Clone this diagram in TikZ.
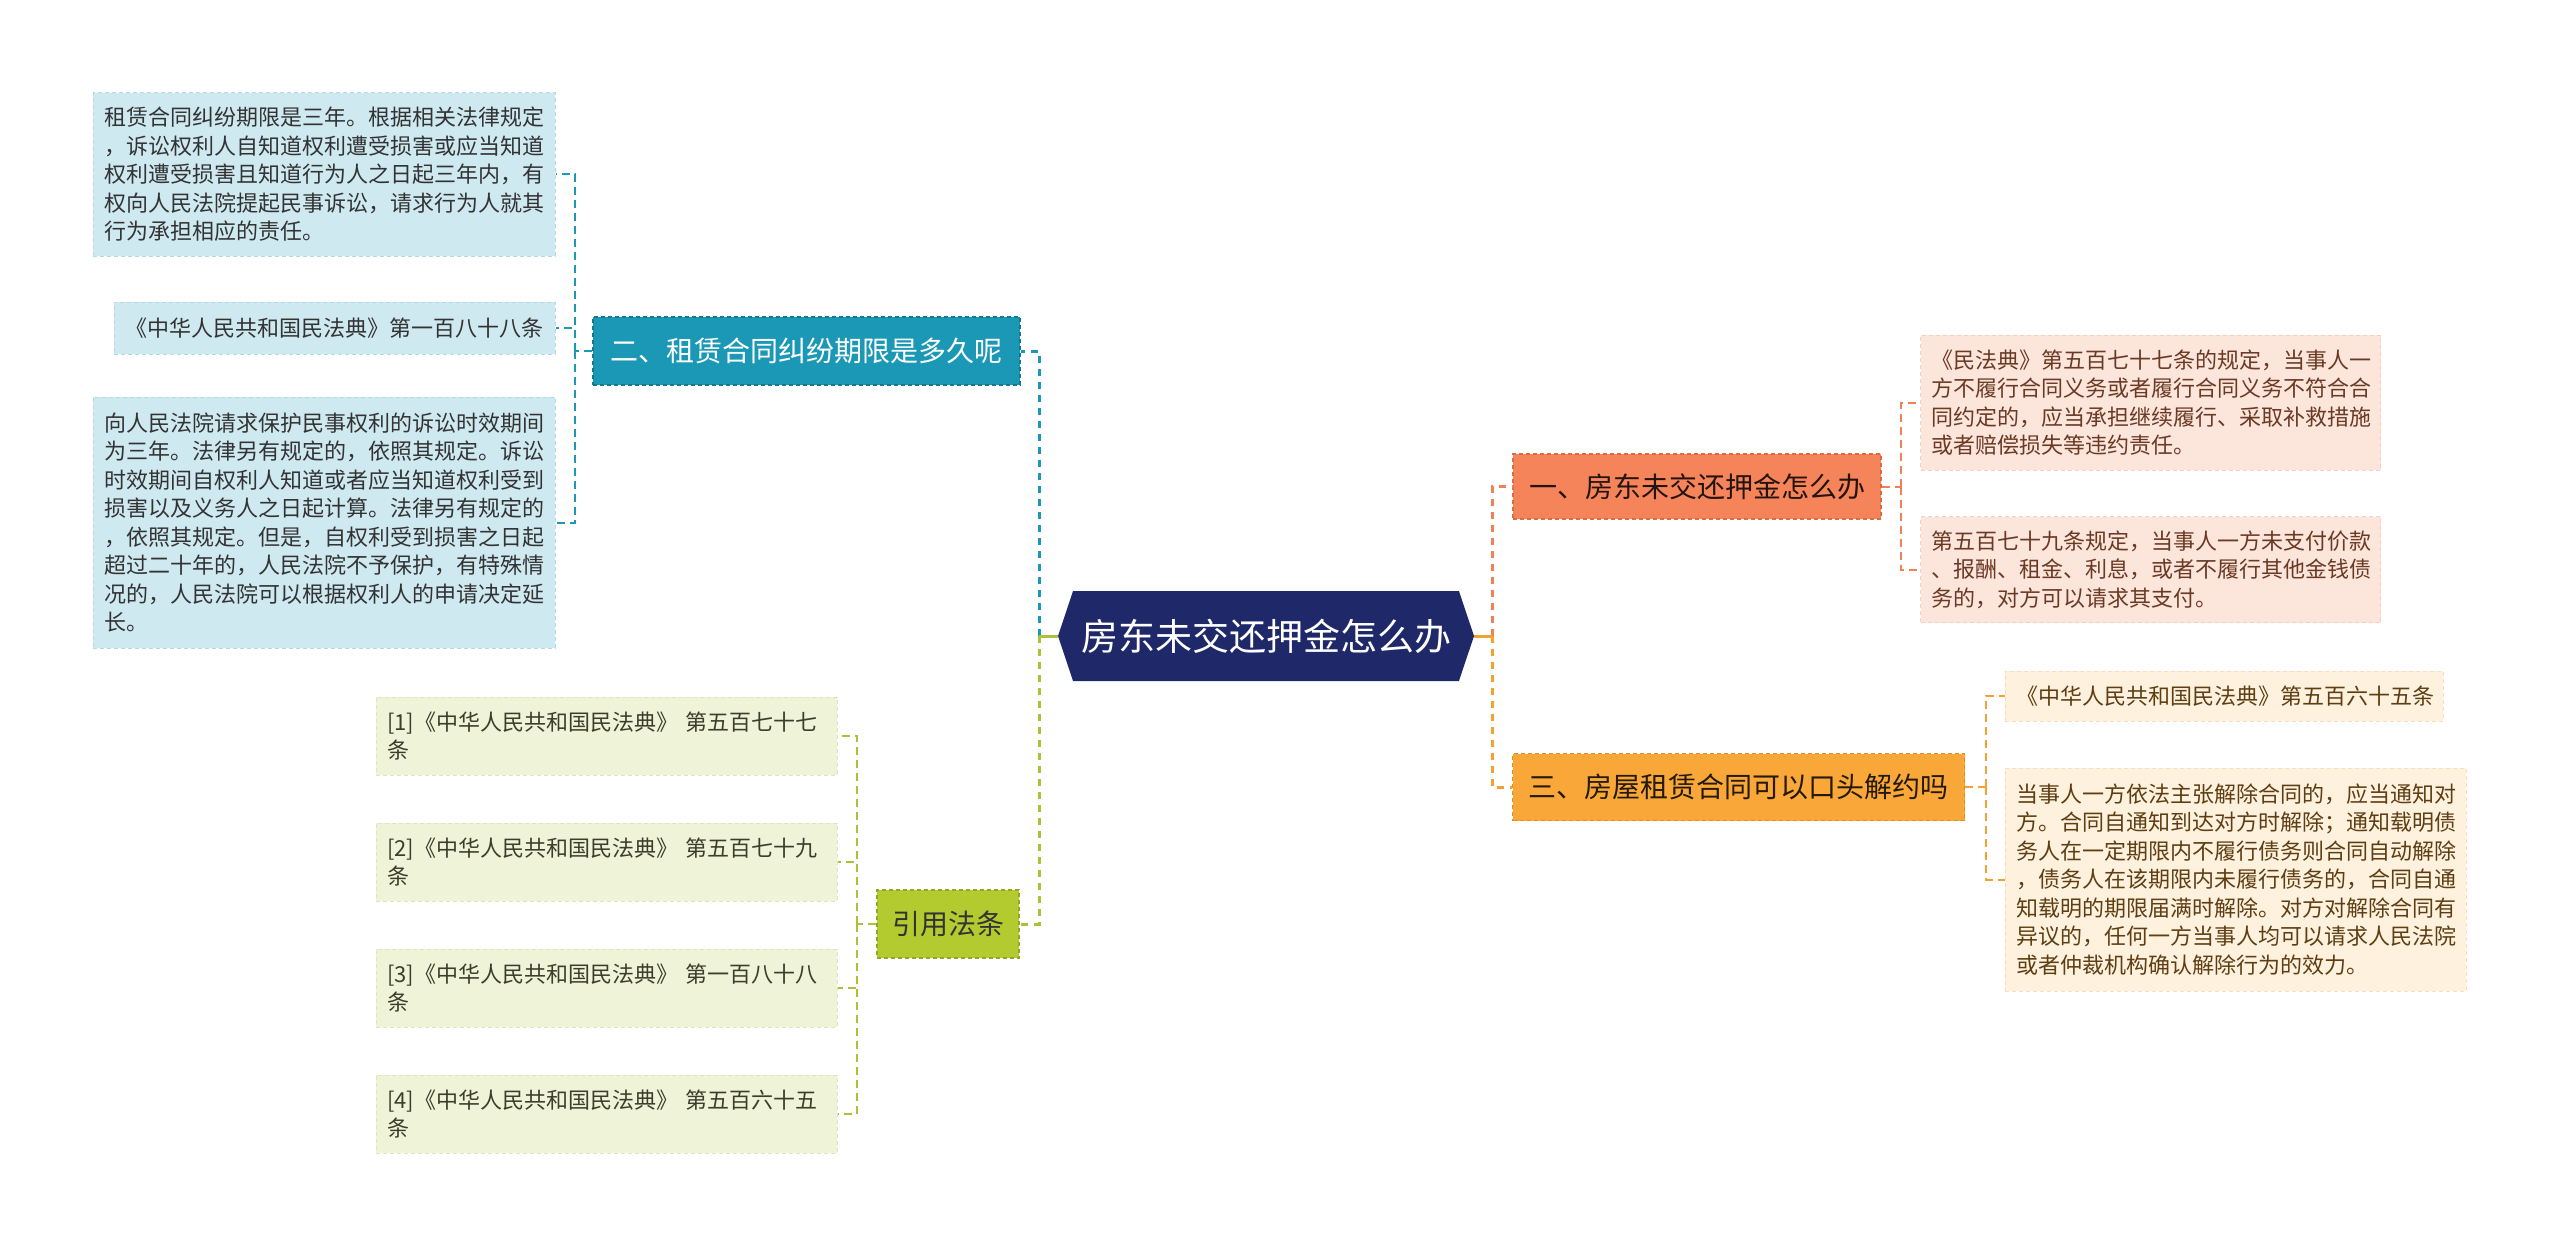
\documentclass[tikz,border=0pt]{standalone}
\usepackage{fontspec}
\newfontfamily\cjk{Noto Sans CJK SC}
\usetikzlibrary{shapes.symbols}
\definecolor{cNavy}{HTML}{1F2868}
\definecolor{cBfill}{HTML}{1A98B5}
\definecolor{cBline}{HTML}{107A94}
\definecolor{cAfill}{HTML}{CFE9F1}
\definecolor{cAline}{HTML}{B2D9E6}
\definecolor{cCfill}{HTML}{B4CB2F}
\definecolor{cCline}{HTML}{93A822}
\definecolor{cCCfill}{HTML}{EFF3D7}
\definecolor{cCCline}{HTML}{DDE5BA}
\definecolor{cCconn}{HTML}{A9C23A}
\definecolor{cDfill}{HTML}{F6845A}
\definecolor{cDline}{HTML}{E06A40}
\definecolor{cDDfill}{HTML}{FCE5DA}
\definecolor{cDDline}{HTML}{F5D0C2}
\definecolor{cDconn}{HTML}{F08055}
\definecolor{cEfill}{HTML}{F8A738}
\definecolor{cEline}{HTML}{E08D20}
\definecolor{cEEfill}{HTML}{FEF1DE}
\definecolor{cEEline}{HTML}{F7DFBD}
\definecolor{cEconn}{HTML}{F5A030}
\definecolor{cTxt}{HTML}{333333}
\definecolor{cCCtxt}{HTML}{3D3D2B}
\definecolor{cDDtxt}{HTML}{6B3A25}
\definecolor{cEEtxt}{HTML}{5E3E12}
\begin{document}
\begin{tikzpicture}[x=1pt,y=-1pt,
  leaf/.style={rectangle, inner xsep=11pt, inner ysep=0pt, align=left,
    font=\cjk\fontsize{22}{28.5}\selectfont, line width=1pt, dash pattern=on 4pt off 3pt},
  topic/.style={rectangle, inner xsep=0pt, inner ysep=0pt, align=center,
    font=\cjk\fontsize{28}{32}\selectfont, line width=1.2pt, dash pattern=on 4pt off 3pt},
  conn/.style={line width=2pt, dash pattern=on 8pt off 5pt},
  trunk/.style={line width=3pt, dash pattern=on 7pt off 6pt},
  stub/.style={line width=3pt}]
\useasboundingbox (0,0) rectangle (2560,1244);
\fill[white] (0,0) rectangle (2560,1244);

% root
\node[signal, signal to=west and east, signal pointer angle=143, fill=cNavy,
  minimum width=416pt, minimum height=90pt, inner sep=0pt, text=white,
  font=\cjk\fontsize{37}{40}\selectfont] (root) at (1266,636) {房东未交还押金怎么办};

% left branch: B
\node[topic, fill=cBfill, draw=cBline, text=white, minimum width=427pt, minimum height=68pt] (b) at (806.5,351) {二、租赁合同纠纷期限是多久呢};
\node[leaf, fill=cAfill, draw=cAline, text=cTxt, minimum width=462pt, minimum height=163pt, text width=440pt] (a1) at (324,174.5) {租赁合同纠纷期限是三年。根据相关法律规定\\，诉讼权利人自知道权利遭受损害或应当知道\\权利遭受损害且知道行为人之日起三年内，有\\权向人民法院提起民事诉讼，请求行为人就其\\行为承担相应的责任。};
\node[leaf, fill=cAfill, draw=cAline, text=cTxt, minimum width=441pt, minimum height=52pt, text width=419pt] (a2) at (334.5,328) {《中华人民共和国民法典》第一百八十八条};
\node[leaf, fill=cAfill, draw=cAline, text=cTxt, minimum width=462pt, minimum height=251pt, text width=440pt] (a3) at (324,522.5) {向人民法院请求保护民事权利的诉讼时效期间\\为三年。法律另有规定的，依照其规定。诉讼\\时效期间自权利人知道或者应当知道权利受到\\损害以及义务人之日起计算。法律另有规定的\\，依照其规定。但是，自权利受到损害之日起\\超过二十年的，人民法院不予保护，有特殊情\\况的，人民法院可以根据权利人的申请决定延\\长。};

% left branch: C
\node[topic, fill=cCfill, draw=cCline, text=cTxt, minimum width=142pt, minimum height=68pt] (c) at (948,924) {引用法条};
\node[leaf, fill=cCCfill, draw=cCCline, text=cCCtxt, minimum width=461pt, minimum height=78pt, text width=439pt] (c1) at (606.5,736) {[1]《中华人民共和国民法典》 第五百七十七\\条};
\node[leaf, fill=cCCfill, draw=cCCline, text=cCCtxt, minimum width=461pt, minimum height=78pt, text width=439pt] (c2) at (606.5,862) {[2]《中华人民共和国民法典》 第五百七十九\\条};
\node[leaf, fill=cCCfill, draw=cCCline, text=cCCtxt, minimum width=461pt, minimum height=78pt, text width=439pt] (c3) at (606.5,988) {[3]《中华人民共和国民法典》 第一百八十八\\条};
\node[leaf, fill=cCCfill, draw=cCCline, text=cCCtxt, minimum width=461pt, minimum height=78pt, text width=439pt] (c4) at (606.5,1114) {[4]《中华人民共和国民法典》 第五百六十五\\条};

% right branch: D
\node[topic, fill=cDfill, draw=cDline, text=black!85!cDfill, minimum width=368pt, minimum height=65pt] (d) at (1697,486.5) {一、房东未交还押金怎么办};
\node[leaf, fill=cDDfill, draw=cDDline, text=cDDtxt, minimum width=460pt, minimum height=135pt, text width=438pt] (d1) at (2150.5,402.5) {《民法典》第五百七十七条的规定，当事人一\\方不履行合同义务或者履行合同义务不符合合\\同约定的，应当承担继续履行、采取补救措施\\或者赔偿损失等违约责任。};
\node[leaf, fill=cDDfill, draw=cDDline, text=cDDtxt, minimum width=460pt, minimum height=106pt, text width=438pt] (d2) at (2150.5,569.5) {第五百七十九条规定，当事人一方未支付价款\\、报酬、租金、利息，或者不履行其他金钱债\\务的，对方可以请求其支付。};

% right branch: E
\node[topic, fill=cEfill, draw=cEline, text=black!85!cEfill, minimum width=452pt, minimum height=67pt] (e) at (1738.5,787) {三、房屋租赁合同可以口头解约吗};
\node[leaf, fill=cEEfill, draw=cEEline, text=cEEtxt, minimum width=438pt, minimum height=50pt, text width=416pt] (e1) at (2224,696) {《中华人民共和国民法典》第五百六十五条};
\node[leaf, fill=cEEfill, draw=cEEline, text=cEEtxt, minimum width=461pt, minimum height=223pt, text width=439pt] (e2) at (2235.5,879.5) {当事人一方依法主张解除合同的，应当通知对\\方。合同自通知到达对方时解除；通知载明债\\务人在一定期限内不履行债务则合同自动解除\\，债务人在该期限内未履行债务的，合同自通\\知载明的期限届满时解除。对方对解除合同有\\异议的，任何一方当事人均可以请求人民法院\\或者仲裁机构确认解除行为的效力。};

% junctions
\coordinate (jL) at (1039,636);
\coordinate (jR) at (1492,636);
\coordinate (jA) at (575,351);
\coordinate (jC) at (857,924);
\coordinate (jD) at (1901,486.5);
\coordinate (jE) at (1986,787);

% trunk connectors
\draw[trunk, cBfill] (jL) |- (b.east);
\draw[trunk, cCconn] (jL) |- (c.east);
\draw[stub, cCconn] (root.west) -- (jL);
\draw[trunk, cDconn] (jR) |- (d.west);
\draw[trunk, cEconn] (jR) |- (e.west);
\draw[stub, cEconn] (root.east) -- (jR);

% branch connectors
\draw[conn, cBfill] (b.west) -- (jA);
\draw[conn, cBfill] (jA) |- (a1.east);
\draw[conn, cBfill] (jA) |- (a2.east);
\draw[conn, cBfill] (jA) |- (a3.east);

\draw[conn, cCconn] (c.west) -- (jC);
\draw[conn, cCconn] (jC) |- (c1.east);
\draw[conn, cCconn] (jC) |- (c2.east);
\draw[conn, cCconn] (jC) |- (c3.east);
\draw[conn, cCconn] (jC) |- (c4.east);

\draw[conn, cDconn] (d.east) -- (jD);
\draw[conn, cDconn] (jD) |- (d1.west);
\draw[conn, cDconn] (jD) |- (d2.west);

\draw[conn, cEconn] (e.east) -- (jE);
\draw[conn, cEconn] (jE) |- (e1.west);
\draw[conn, cEconn] (jE) |- (e2.west);
\end{tikzpicture}
\end{document}
